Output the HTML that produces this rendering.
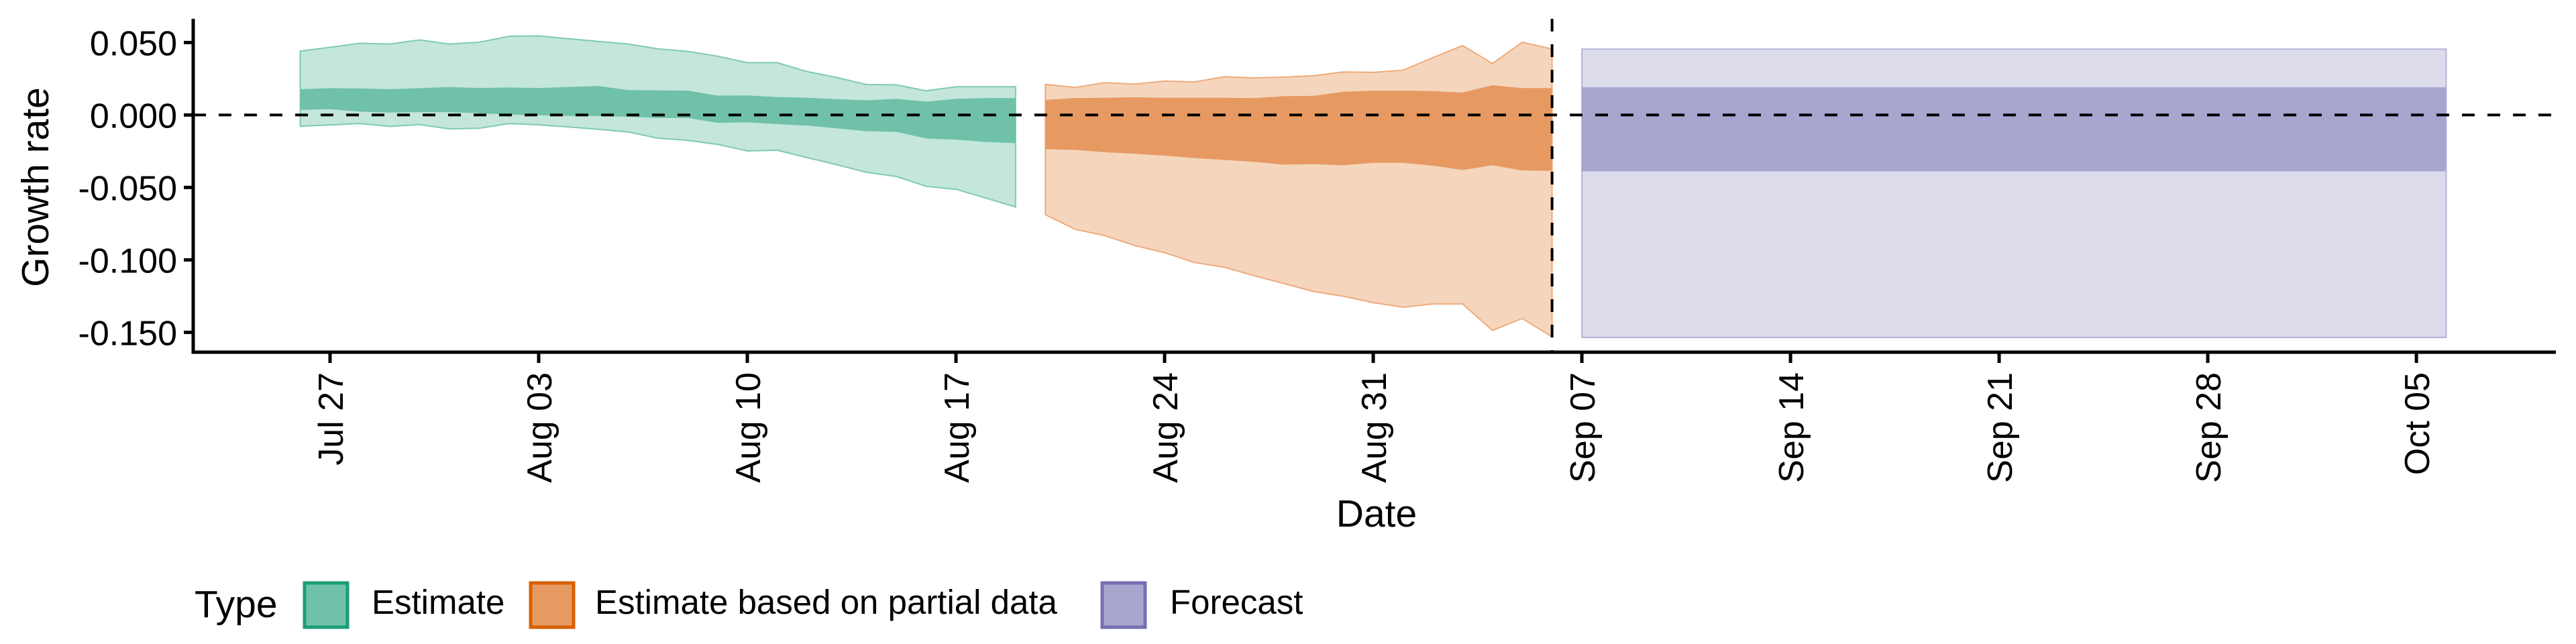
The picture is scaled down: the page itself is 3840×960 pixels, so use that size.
<!DOCTYPE html>
<html><head><meta charset="utf-8"><style>
html,body{margin:0;padding:0;background:#fff;}
svg{display:block;font-family:"Liberation Sans",Arial,sans-serif;}
</style></head><body>
<svg id="chart" width="3840" height="960" viewBox="0 0 3840 960" xmlns="http://www.w3.org/2000/svg">
<g id="bands"></g>
<g id="axes"></g>
<text x="0" y="0" transform="translate(72,279) rotate(-90)" font-size="57" text-anchor="middle">Growth rate</text>
<text x="2052" y="785" font-size="57" text-anchor="middle">Date</text>
<g>
<text x="290" y="920" font-size="57">Type</text>
<g>
<rect x="454" y="869" width="64" height="66" fill="#6fc1a9" stroke="#1b9e77" stroke-width="5"/>
<text x="554" y="915" font-size="51">Estimate</text></g>
<g>
<rect x="791" y="869" width="64" height="66" fill="#e69a62" stroke="#d95f02" stroke-width="5"/>
<text x="887" y="915" font-size="51">Estimate based on partial data</text></g>
<g>
<rect x="1643" y="869" width="64" height="66" fill="#a8a5cf" stroke="#7570b3" stroke-width="5"/>
<text x="1744" y="915" font-size="51">Forecast</text></g>
</g>
</svg>
<script>
// day offsets relative to Jul 27
const estDays = [-1,0,1,2,3,4,5,6,7,8,9,10,11,12,13,14,15,16,17,18,19,20,21,22,23];
const estUpper90 = [0.0441,0.0467,0.0495,0.0490,0.0518,0.0490,0.0502,0.0543,0.0546,0.0526,0.0508,0.0490,0.0457,0.0439,0.0406,0.0361,0.0361,0.0300,0.0259,0.0210,0.0208,0.0167,0.0195,0.0195,0.0195];
const estUpper50 = [0.0178,0.0185,0.0183,0.0178,0.0185,0.0193,0.0186,0.0190,0.0186,0.0193,0.0200,0.0172,0.0170,0.0168,0.0134,0.0135,0.0124,0.0119,0.0109,0.0101,0.0111,0.0092,0.0111,0.0116,0.0117];
const estLower50 = [0.0035,0.0040,0.0023,0.0017,0.0020,0.0020,0.0012,0.0003,-0.0002,-0.0007,-0.0007,-0.0012,-0.0021,-0.0021,-0.0054,-0.0050,-0.0063,-0.0073,-0.0092,-0.0112,-0.0116,-0.0162,-0.0170,-0.0186,-0.0195];
const estLower90 = [-0.0078,-0.0069,-0.0059,-0.0079,-0.0066,-0.0096,-0.0092,-0.0059,-0.0068,-0.0083,-0.0099,-0.0117,-0.0160,-0.0175,-0.0203,-0.0248,-0.0243,-0.0294,-0.0343,-0.0396,-0.0424,-0.0492,-0.0513,-0.0573,-0.0635];
const partDays = [24,25,26,27,28,29,30,31,32,33,34,35,36,37,38,39,40,41];
const partUpper90 = [0.0211,0.0190,0.0223,0.0213,0.0234,0.0228,0.0264,0.0256,0.0261,0.0271,0.0297,0.0294,0.0309,0.0396,0.0479,0.0355,0.0502,0.0455];
const partUpper50 = [0.0104,0.0117,0.0119,0.0122,0.0119,0.0119,0.0119,0.0116,0.0130,0.0132,0.0160,0.0168,0.0168,0.0165,0.0155,0.0205,0.0186,0.0186];
const partLower50 = [-0.0236,-0.0241,-0.0257,-0.0267,-0.0281,-0.0297,-0.0310,-0.0323,-0.0343,-0.0340,-0.0347,-0.0330,-0.0330,-0.0350,-0.0380,-0.0347,-0.0383,-0.0386];
const partLower90 = [-0.0688,-0.0789,-0.0833,-0.0901,-0.0950,-0.1018,-0.1051,-0.1109,-0.1163,-0.1218,-0.1251,-0.1295,-0.1327,-0.1304,-0.1304,-0.1487,-0.1404,-0.1531];
const fcDays = [42,71];
const fcUpper90 = [0.0454,0.0454];
const fcUpper50 = [0.0191,0.0191];
const fcLower50 = [-0.0389,-0.0389];
const fcLower90 = [-0.1535,-0.1535];
const yTicks = [0.05,0,-0.05,-0.1,-0.15];
const yTickLabels = ["0.050","0.000","-0.050","-0.100","-0.150"];
const xTickDays = [0,7,14,21,28,35,42,49,56,63,70];
const xTickLabels = ["Jul 27","Aug 03","Aug 10","Aug 17","Aug 24","Aug 31","Sep 07","Sep 14","Sep 21","Sep 28","Oct 05"];
const dataDateDay = 41;

const NS="http://www.w3.org/2000/svg";
const X0=288, X1=3810, YT=28, YB=525;
function xs(d){return 492 + d*44.43;}
function ys(v){return 171.4 - v/0.05*108;}
function mk(tag,attrs,parent){const e=document.createElementNS(NS,tag);for(const k in attrs)e.setAttribute(k,attrs[k]);parent.appendChild(e);return e;}
const bands=document.getElementById('bands'), axes=document.getElementById('axes');
function band(days,up,lo,fill,stroke,name){
  let pts=days.map((d,i)=>xs(d).toFixed(1)+','+ys(up[i]).toFixed(1));
  for(let i=days.length-1;i>=0;i--)pts.push(xs(days[i]).toFixed(1)+','+ys(lo[i]).toFixed(1));
  const p=mk('polygon',{points:pts.join(' '),fill:fill,stroke:stroke,'stroke-width':stroke==='none'?0:2},bands);
  
  
}
band(estDays,estUpper90,estLower90,'#c4e6db','#7fcab2','estimate-90-band');
band(estDays,estUpper50,estLower50,'#6fc1a9','none','estimate-50-band');
band(partDays,partUpper90,partLower90,'#f5d6bd','#eeab7c','partial-90-band');
band(partDays,partUpper50,partLower50,'#e69a62','none','partial-50-band');
band(fcDays,fcUpper90,fcLower90,'#dcdbea','#b6b3d8','forecast-90-band');
band(fcDays,fcUpper50,fcLower50,'#a8a5cf','none','forecast-50-band');

const zl=mk('line',{x1:X0,x2:X1,y1:ys(0),y2:ys(0),stroke:'#000','stroke-width':4,'stroke-dasharray':'19 19'},axes);


const vl=mk('line',{x1:xs(dataDateDay),x2:xs(dataDateDay),y1:YT,y2:YB,stroke:'#000','stroke-width':4,'stroke-dasharray':'19 19'},axes);


const ya=mk('line',{x1:X0,x2:X0,y1:YT,y2:YB+2.5,stroke:'#000','stroke-width':5},axes);


const xa=mk('line',{x1:X0-2.5,x2:X1,y1:YB,y2:YB,stroke:'#000','stroke-width':5},axes);


yTicks.forEach((v,i)=>{
  const t=mk('line',{x1:X0-14,x2:X0,y1:ys(v),y2:ys(v),stroke:'#000','stroke-width':5},axes);
  
  
  const l=mk('text',{x:X0-24,y:ys(v)+19,'font-size':52,'text-anchor':'end'},axes);
  
  
  l.textContent=yTickLabels[i];
});
xTickDays.forEach((d,i)=>{
  const x=xs(d);
  const t=mk('line',{x1:x,x2:x,y1:YB,y2:YB+16,stroke:'#000','stroke-width':5},axes);
  
  
  const l=mk('text',{x:0,y:0,'font-size':52,'text-anchor':'end',transform:'translate('+(x+19)+',555) rotate(-90)'},axes);
  
  
  l.textContent=xTickLabels[i];
});
</script>
</body></html>
